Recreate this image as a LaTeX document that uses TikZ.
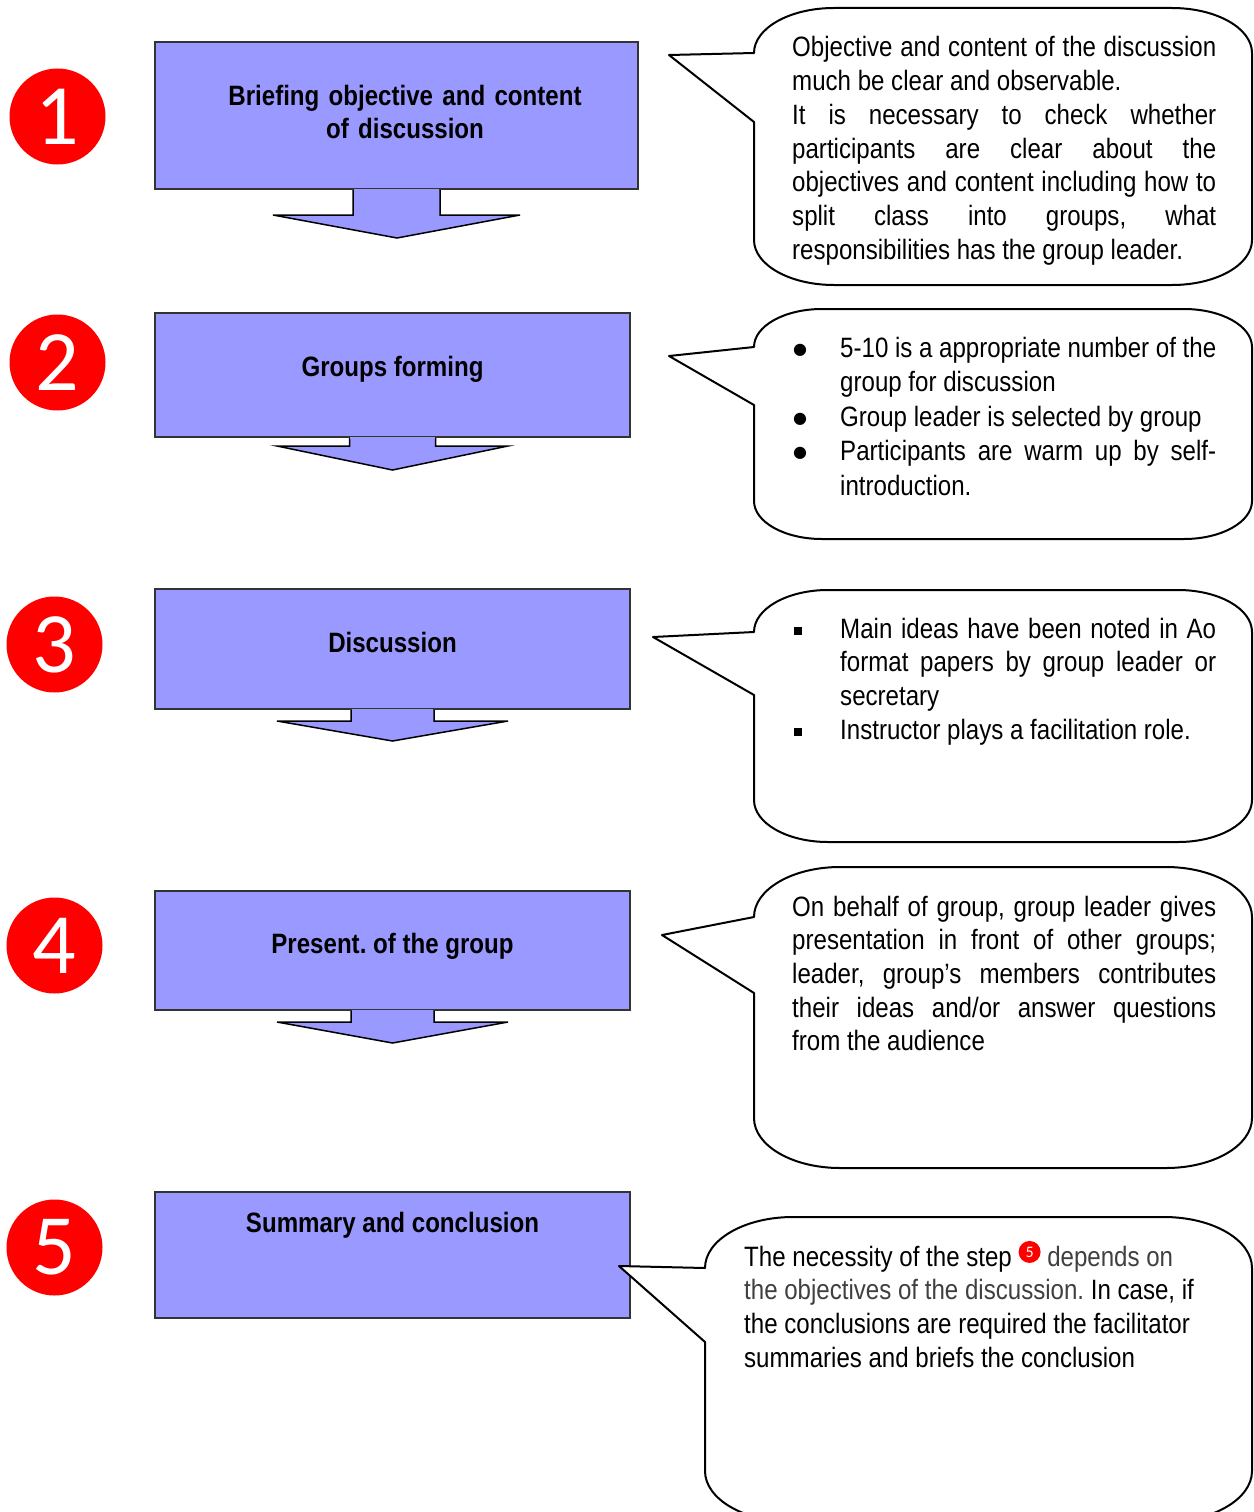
\documentclass[tikz,border=0pt]{standalone}
\usepackage{fontspec}
\setmainfont{Liberation Sans}[FakeStretch=0.86]
\newfontfamily\digitfont{Carlito}
\newfontfamily\symfont{DejaVu Sans}
\usetikzlibrary{calc}
\definecolor{boxblue}{HTML}{9999FF}
\definecolor{boxedge}{HTML}{333333}
\setlength\parindent{0pt}
\hyphenpenalty=10000
\frenchspacing
\newcommand\redfive{\tikz[baseline=-9pt]\node[circle,fill=red,inner sep=0pt,minimum size=22pt,text=white,font=\digitfont\fontsize{16}{16}\selectfont] (inlinefive) at (0,0) {5};}
\newcommand\sqbullet{\hangindent=48pt\hangafter=1\relax\makebox[48pt][l]{\hspace{2pt}\rule[3pt]{8pt}{8pt}}}
\newcommand\rdbullet{\hangindent=48pt\hangafter=1\relax\makebox[48pt][l]{\hspace{1pt}\raisebox{3pt}{\symfont\fontsize{16}{16}\selectfont ●}}}
\begin{document}
\begin{tikzpicture}[x=1pt,y=-1pt,
  stepbox/.style={draw=boxedge,line width=2pt,fill=boxblue,inner sep=0pt},
  arrowpath/.style={draw=black,line width=1.5pt,fill=boxblue,line join=miter},
  titletext/.style={font=\bfseries\fontsize{28}{33}\selectfont,inner sep=0pt,anchor=base},
  numcirc/.style={circle,fill=red,minimum size=96pt,inner sep=0pt,text=white,font=\digitfont\fontsize{86}{86}\selectfont},
  callout/.style={draw=black,line width=2pt,fill=white,line join=round},
  bodytext/.style={font=\fontsize{28}{33.7}\selectfont,inner sep=0pt,anchor=base west,text width=424pt,align=justify},
]
\useasboundingbox (0,0) rectangle (1253,1512);
\fill[white] (0,0) rectangle (1253,1512);
\clip (0,0) rectangle (1253,1512);

% number circles
\node[numcirc] (n1) at (57.5,116.5) {1};
\node[numcirc] (n2) at (57.5,362.5) {2};
\node[numcirc] (n3) at (54.5,644.5) {3};
\node[numcirc] (n4) at (54.5,945.5) {4};
\node[numcirc] (n5) at (54.5,1247.5) {5};

% step boxes
\node[stepbox,minimum width=483pt,minimum height=147pt] (b1) at (396.5,115.5) {};
\node[stepbox,minimum width=475pt,minimum height=124pt] (b2) at (392.5,375) {};
\node[stepbox,minimum width=475pt,minimum height=120pt] (b3) at (392.5,649) {};
\node[stepbox,minimum width=475pt,minimum height=119pt] (b4) at (392.5,950.5) {};
\node[stepbox,minimum width=475pt,minimum height=126pt] (b5) at (392.5,1255) {};

% block arrows
\filldraw[arrowpath] ($(b1.south)+(-43.5,0)$) -- ++(0,25) -- ++(-80,0) -- ($(b1.south)+(0.5,48)$) -- ($(b1.south)+(123.5,25)$) -- ++(-80,0) -- ++(0,-25);
\fill[boxblue] ($(b1.south)+(-42.7,-1.3)$) rectangle ($(b1.south)+(42.7,1.3)$);
\filldraw[arrowpath] ($(b2.south)+(-43,0)$) -- ++(0,8) -- ++(-72.5,0) -- ($(b2.south)+(0,32)$) -- ($(b2.south)+(115.5,8)$) -- ++(-72.5,0) -- ++(0,-8);
\fill[boxblue] ($(b2.south)+(-42.2,-1.3)$) rectangle ($(b2.south)+(42.2,1.3)$);
\filldraw[arrowpath] ($(b3.south)+(-41.5,0)$) -- ++(0,11) -- ++(-74,0) -- ($(b3.south)+(0,31)$) -- ($(b3.south)+(115.5,11)$) -- ++(-74,0) -- ++(0,-11);
\fill[boxblue] ($(b3.south)+(-40.7,-1.3)$) rectangle ($(b3.south)+(40.7,1.3)$);
\filldraw[arrowpath] ($(b4.south)+(-41.5,0)$) -- ++(0,11) -- ++(-74,0) -- ($(b4.south)+(0,32)$) -- ($(b4.south)+(115.5,11)$) -- ++(-74,0) -- ++(0,-11);
\fill[boxblue] ($(b4.south)+(-40.7,-1.3)$) rectangle ($(b4.south)+(40.7,1.3)$);

% box titles
\node[titletext,text width=420pt,align=center] (t1) at (405,105) {Briefing objective and content\\of discussion};
\node[titletext] (t2) at (392.5,376) {Groups forming};
\node[titletext] (t3) at (392.5,652) {Discussion};
\node[titletext] (t4) at (392.5,953) {Present. of the group};
\node[titletext] (t5) at (392.5,1232) {Summary and conclusion};

% callouts
\draw[callout] (754,122) -- (669,55) -- (754,53)
  arc[start angle=180,end angle=270,x radius=80,y radius=45] -- (1172,8)
  arc[start angle=270,end angle=360,x radius=80,y radius=45] -- (1252,240)
  arc[start angle=0,end angle=90,x radius=80,y radius=45] -- (834,285)
  arc[start angle=90,end angle=180,x radius=80,y radius=45] -- cycle;
\draw[callout] (754,405) -- (669,356) -- (754,347)
  arc[start angle=180,end angle=270,x radius=68,y radius=38] -- (1184,309)
  arc[start angle=270,end angle=360,x radius=68,y radius=38] -- (1252,501)
  arc[start angle=0,end angle=90,x radius=68,y radius=38] -- (822,539)
  arc[start angle=90,end angle=180,x radius=68,y radius=38] -- cycle;
\draw[callout] (754,695) -- (653,637) -- (754,632)
  arc[start angle=180,end angle=270,x radius=74,y radius=42] -- (1178,590)
  arc[start angle=270,end angle=360,x radius=74,y radius=42] -- (1252,800)
  arc[start angle=0,end angle=90,x radius=74,y radius=42] -- (828,842)
  arc[start angle=90,end angle=180,x radius=74,y radius=42] -- cycle;
\draw[callout] (754,993) -- (662,935) -- (754,917)
  arc[start angle=180,end angle=270,x radius=86,y radius=50] -- (1166,867)
  arc[start angle=270,end angle=360,x radius=86,y radius=50] -- (1252,1118)
  arc[start angle=0,end angle=90,x radius=86,y radius=50] -- (840,1168)
  arc[start angle=90,end angle=180,x radius=86,y radius=50] -- cycle;
\draw[callout] (705,1342) -- (619,1266) -- (705,1268)
  arc[start angle=180,end angle=270,x radius=88,y radius=51] -- (1164,1217)
  arc[start angle=270,end angle=360,x radius=88,y radius=51] -- (1252,1471)
  arc[start angle=0,end angle=90,x radius=88,y radius=51] -- (793,1522)
  arc[start angle=90,end angle=180,x radius=88,y radius=51] -- cycle;

% callout texts
\node[bodytext] (c1) at (792,57) {Objective and content of the discussion\linebreak much be clear and observable.\par
It is necessary to check whether\linebreak participants are clear about the\linebreak objectives and content including how to\linebreak split class into groups, what\linebreak responsibilities has the group leader.};

\node[bodytext,font=\fontsize{28}{34.5}\selectfont] (c2) at (792,357) {\rdbullet 5-10 is a appropriate number of the\linebreak group for discussion\par
\rdbullet Group leader is selected by group\par
\rdbullet Participants are warm up by self-\linebreak introduction.\par};

\node[bodytext] (c3) at (792,638) {\sqbullet Main ideas have been noted in Ao\linebreak format papers by group leader or\linebreak secretary\par
\sqbullet Instructor plays a facilitation role.\par};

\node[bodytext] (c4) at (792,916) {On behalf of group, group leader gives\linebreak presentation in front of other groups;\linebreak leader, group’s members contributes\linebreak their ideas and/or answer questions\linebreak from the audience};

\node[bodytext,text width=480pt,align=flush left] (c5) at (744,1266) {The necessity of the step \redfive{} {\color{black!75}depends on}\\
{\color{black!75}the objectives of the discussion.} In case, if\\
the conclusions are required the facilitator\\
summaries and briefs the conclusion};
\end{tikzpicture}
\end{document}
